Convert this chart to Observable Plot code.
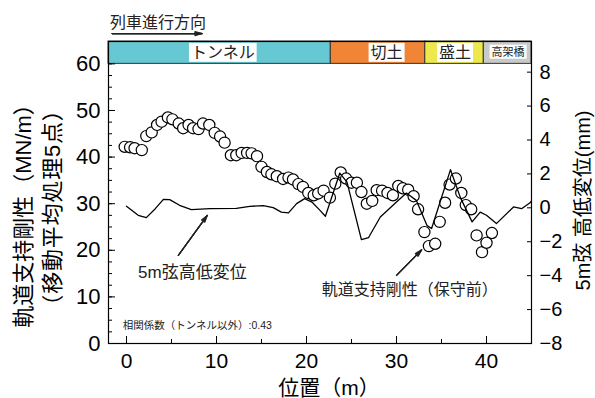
<!DOCTYPE html>
<html><head><meta charset="utf-8">
<script src="https://cdn.jsdelivr.net/npm/d3@7"></script>
<script src="https://cdn.jsdelivr.net/npm/@observablehq/plot@0.6"></script>
<style>body{margin:0;background:#fff}</style>
</head><body><div id="chart"></div>
<script>
// ---- data ----
const sections = ["トンネル", "切土", "盛土", "高架橋"];
const sectionStart = [-2, 22.7, 33.2, 39.7];
const sectionEnd = [22.7, 33.2, 39.7, 45];
const sectionLabelX = [10.7, 28.9, 36.5, 42.4];
const sectionColors = ["#66c8d3", "#f08536", "#ede84c", "#c9c9c9"];

// track support stiffness (MN/m), moving average of 5 points
const positionM = [-0.2,0.4,0.9,1.7,2.2,2.8,3.4,3.9,4.6,5.1,5.8,6.3,6.9,7.4,8.0,8.5,9.2,9.8,10.4,10.9,
  11.6,12.2,12.8,13.4,13.9,14.5,15.0,15.6,16.1,16.7,17.4,18.0,18.5,19.1,19.6,20.2,20.8,21.3,21.9,22.6,
  23.2,23.8,24.4,25.0,25.6,26.1,26.7,27.3,27.8,28.4,29.0,29.6,30.2,30.7,31.3,31.9,32.4,33.1,33.6,34.3,
  34.8,35.4,35.9,36.6,37.2,37.7,38.3,38.9,39.5,40.0,40.6];
const stiffness = [42.2,42.1,41.9,41.5,44.5,45.3,46.9,47.6,48.5,48.1,47.2,46.2,46.9,46.2,46.0,47.2,46.9,45.2,44.4,43.1,
  40.4,40.4,40.9,40.9,40.8,40.2,37.9,36.8,36.3,35.9,35.3,35.6,35.2,34.2,33.6,32.3,31.8,32.2,32.8,31.3,
  34.3,36.7,35.4,34.5,34.5,32.5,30.0,30.6,32.9,32.8,32.3,31.8,33.8,33.3,33.0,31.6,28.8,23.9,20.9,21.4,
  26.1,30.2,34.1,35.4,32.3,29.7,28.8,23.2,19.6,21.6,23.7];

// 5 m chord longitudinal level (mm)
const lineX = [0.0,1.3,2.2,3.2,4.1,4.8,5.9,7.2,9.3,12.2,13.7,15.2,16.3,17.2,18.0,18.9,19.8,20.6,21.5,22.1,
  23.7,24.5,26.1,26.9,28.2,30.0,31.1,32.2,33.4,33.9,36.0,37.1,38.4,39.3,40.0,41.1,43.0,43.9,44.8,45.0];
const lineMM = [0.09,-0.44,-0.58,-0.05,0.50,0.48,0.15,-0.11,-0.05,-0.03,0.09,0.13,0.01,-0.25,-0.30,0.25,0.54,0.34,-0.15,-0.50,
  2.05,1.52,-1.87,-1.75,-0.54,0.34,0.87,0.44,-1.05,-1.22,2.25,0.60,-0.83,-0.25,-0.44,-0.93,0.05,-0.05,0.28,0.40];

const leftTicks = [0, 10, 20, 30, 40, 50, 60];
const leftMinor = d3.range(0, 60.1, 2.5);
const xTicks = [0, 10, 20, 30, 40];
const xMinor = [5, 15, 25, 35];
const rightTicks = [-8, -6, -4, -2, 0, 2, 4, 6, 8];

const xDomain = [-2, 45];
const yMax = 64.8;
const bannerBottom = 60;
const rightK = 3.639; // left units per (mm + 8)
const toLeft = v => (v + 8) * rightK;

const annotTexts = [
  {x: 1.28, y: 15.2, text: "5m弦高低変位", size: 17},
  {x: 21.7, y: 11.6, text: "軌道支持剛性（保守前）", size: 16},
  {x: -0.42, y: 3.9, text: "相関係数（トンネル以外）:0.43", size: 10.5},
  {x: -1.83, y: 68.7, text: "列車進行方向", size: 16}
];
const annotArrows = [
  {x1: 5.76, y1: 18.9, x2: 8.98, y2: 27.5},
  {x1: 30.0, y1: 14.6, x2: 32.8, y2: 20.1},
  {x1: -1.6, y1: 66.5, x2: 8.4, y2: 66.5}
];

// ---- build ----
const font = "'Liberation Sans', Arial, 'Noto Sans CJK JP', sans-serif";
const stiffData = positionM.map((x, i) => ({x, y: stiffness[i]}));
const lineData = lineX.map((x, i) => ({x, v: lineMM[i]}));
const sectionData = sections.map((name, i) => ({name, x1: sectionStart[i], x2: sectionEnd[i], lx: sectionLabelX[i]}));

const chart = Plot.plot({
  width: 595, height: 398,
  marginLeft: 108, marginRight: 64, marginTop: 41, marginBottom: 55,
  x: {domain: xDomain},
  y: {domain: [0, yMax]},
  color: {domain: sections, range: sectionColors},
  style: {fontFamily: font, background: "white", color: "black", overflow: "visible"},
  marks: [
    Plot.rect(sectionData, {x1: "x1", x2: "x2", y1: bannerBottom, y2: yMax, fill: "name", stroke: "#333", strokeWidth: 1}),
    Plot.text(sectionData, {x: "lx", y: (bannerBottom + yMax) / 2, text: "name", fontSize: d => d.name === "高架橋" ? 11 : 16, fill: "#222"}),
    Plot.dot(stiffData, {x: "x", y: "y", r: 5.6, fill: "white", stroke: "black", strokeWidth: 1.2}),
    Plot.line(lineData, {x: "x", y: d => toLeft(d.v), stroke: "black", strokeWidth: 1.3}),
    Plot.frame({stroke: "black", strokeWidth: 1.2}),
    Plot.axisY(leftTicks, {tickSize: -7, tickPadding: 15, fontSize: 22, label: null}),
    Plot.axisY(leftMinor, {tickSize: -4, tickFormat: () => "", label: null}),
    Plot.axisX(xTicks, {tickSize: -7, tickPadding: 17, fontSize: 21, label: null}),
    Plot.axisX(xMinor, {tickSize: -4, tickFormat: () => "", label: null}),
    Plot.axisY(rightTicks.map(toLeft), {anchor: "right", tickSize: -5, tickPadding: 13, fontSize: 20, label: null,
      tickFormat: d => d3.format("d")(Math.round(d / rightK - 8))}),
    Plot.text(["軌道支持剛性（MN/m）"], {text: d => d, frameAnchor: "left", textAnchor: "middle", rotate: -90, dx: -85, dy: 18, fontSize: 22}),
    Plot.text(["（移動平均処理5点）"], {text: d => d, frameAnchor: "left", textAnchor: "middle", rotate: -90, dx: -56, dy: 15, fontSize: 22}),
    Plot.text(["5m弦 高低変位(mm)"], {text: d => d, frameAnchor: "right", textAnchor: "middle", rotate: -90, dx: 52, dy: 8, fontSize: 20}),
    Plot.text(["位置（m）"], {text: d => d, frameAnchor: "bottom", textAnchor: "middle", dx: 9, dy: 51, fontSize: 21}),
    Plot.text(annotTexts, {x: "x", y: "y", text: "text", fontSize: d => d.size, textAnchor: "start", fill: "#222"}),
    ...[32, 22, 12, 4].map(a => Plot.arrow(annotArrows, {x1: "x1", y1: "y1", x2: "x2", y2: "y2", headLength: 10, headAngle: a, strokeWidth: 1.1, stroke: "#222"}))
  ]
});
document.getElementById("chart").append(chart);

const ns = "http://www.w3.org/2000/svg";
chart.querySelectorAll("text").forEach(t => {
  // slightly wider tracking on the second left-axis title line
  if (t.textContent === "（移動平均処理5点）") t.setAttribute("letter-spacing", "0.8");
  if (!sections.includes(t.textContent)) return;
  // white boxes behind the section labels
  const b = t.getBBox();
  const fs = parseFloat(getComputedStyle(t).fontSize) || 16;
  const h = fs + 3;
  const r = document.createElementNS(ns, "rect");
  r.setAttribute("x", b.x - 2);
  r.setAttribute("width", b.width + 4);
  r.setAttribute("y", b.y + b.height / 2 - h / 2);
  r.setAttribute("height", h);
  r.setAttribute("fill", "white");
  if (t.getAttribute("transform")) r.setAttribute("transform", t.getAttribute("transform"));
  t.parentNode.insertBefore(r, t);
});
</script></body></html>
